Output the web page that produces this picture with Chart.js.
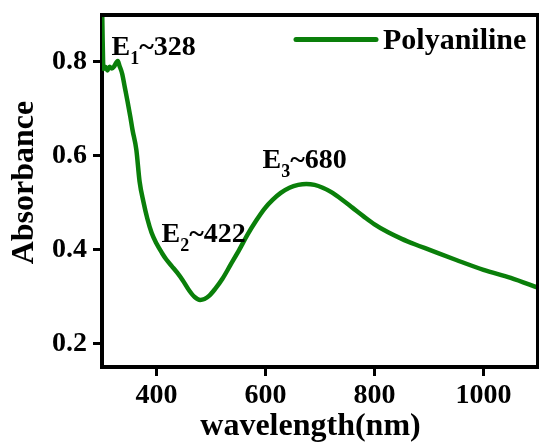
<!DOCTYPE html>
<html><head><meta charset="utf-8">
<script src="https://cdn.jsdelivr.net/npm/chart.js@4/dist/chart.umd.min.js"></script>
<style>
html,body{margin:0;padding:0;background:#fff}
#wrap{position:relative;width:539px;height:447px}
</style>
</head><body><div id="wrap"><canvas id="c" width="539" height="447"></canvas></div>
<script>
// ---- data ----
const wavelengths = [300,301,302,303,306,310,314,318,322,326,329,332,337,342,347,352,356,363,369,376,383,391,400,410,418,428,438,448,460,470,480,488,497,508,521,536,552,567,583,598,613,628,644,660,675,690,705,720,740,760,780,800,825,850,875,900,950,1000,1050,1100];
const absorbance  = [0.93,0.86,0.80,0.785,0.79,0.782,0.79,0.786,0.79,0.798,0.802,0.792,0.775,0.745,0.715,0.683,0.655,0.613,0.545,0.502,0.467,0.436,0.413,0.393,0.379,0.365,0.351,0.335,0.313,0.299,0.293,0.295,0.302,0.317,0.338,0.368,0.400,0.432,0.462,0.487,0.506,0.521,0.532,0.538,0.540,0.538,0.532,0.523,0.507,0.489,0.471,0.454,0.437,0.423,0.411,0.400,0.378,0.357,0.340,0.319];
const xTickValues = [400,600,800,1000];
const yTickValues = [0.2,0.4,0.6,0.8];
const seriesName = 'Polyaniline';
const peakIndex = ['1','2','3'];
const peakWavelength = [328,422,680];
const xTitle = 'wavelength(nm)';
const yTitle = 'Absorbance';

// ---- styling / placement ----
const GREEN = '#0a7f0a';
const FONT = '"Liberation Serif", "Times New Roman", serif';
const peakAnchors = [[317.4,0.815],[409.4,0.417],[594.5,0.5745]];

const framePlugin = {
  id: 'frame',
  afterDraw(chart) {
    const {ctx, chartArea: a} = chart;
    ctx.save();
    ctx.fillStyle = '#000';
    ctx.fillRect(a.left - 2, a.top - 2, a.right - a.left + 2, 4);
    ctx.fillRect(a.right - 2, a.top - 2, 3, a.bottom - a.top + 4);
    ctx.restore();
  }
};

const labelsPlugin = {
  id: 'labels',
  afterDraw(chart) {
    const {ctx, scales: {x, y}} = chart;
    const ds = chart.data.datasets[0];
    ctx.save();
    ctx.strokeStyle = ds.borderColor; ctx.lineWidth = 5; ctx.lineCap = 'round';
    ctx.beginPath(); ctx.moveTo(296, 39.5); ctx.lineTo(376, 39.5); ctx.stroke();
    ctx.fillStyle = '#000'; ctx.textBaseline = 'alphabetic'; ctx.textAlign = 'left';
    ctx.font = 'bold 30px ' + FONT;
    ctx.fillText(ds.label, 383, 49);
    peakIndex.forEach((k, i) => {
      let px = x.getPixelForValue(peakAnchors[i][0]);
      const py = y.getPixelForValue(peakAnchors[i][1]);
      ctx.font = 'bold 28px ' + FONT;
      ctx.fillText('E', px, py); px += ctx.measureText('E').width;
      ctx.font = 'bold 18px ' + FONT;
      ctx.fillText(k, px, py + 9); px += ctx.measureText(k).width;
      ctx.font = 'bold 28px ' + FONT;
      ctx.fillText('~' + peakWavelength[i], px, py);
    });
    ctx.font = 'bold 32px ' + FONT;
    ctx.textAlign = 'center';
    ctx.fillText(xTitle, 310.5, 435);
    ctx.translate(33, 182.5); ctx.rotate(-Math.PI / 2);
    ctx.fillText(yTitle, 0, 0);
    ctx.restore();
  }
};

const tickFont = {family: FONT, weight: 'bold', size: 28};
new Chart(document.getElementById('c'), {
  type: 'line',
  data: {
    datasets: [{
      label: seriesName,
      data: wavelengths.map((w, i) => ({x: w, y: absorbance[i]})),
      borderColor: GREEN, borderWidth: 4.5, pointRadius: 0,
      cubicInterpolationMode: 'monotone', fill: false
    }]
  },
  options: {
    responsive: false, animation: false, devicePixelRatio: 1,
    layout: {padding: {top: 15, right: 1, left: 0, bottom: 0}},
    plugins: {legend: {display: false}, tooltip: {enabled: false}},
    scales: {
      x: {
        type: 'linear', min: 300, max: 1100, position: 'bottom',
        afterBuildTicks: s => { s.ticks = xTickValues.map(v => ({value: v})); },
        afterFit: s => { s.height = 80; s.paddingLeft = 0; s.paddingRight = 0; },
        border: {display: true, color: '#000', width: 4},
        grid: {drawOnChartArea: false, drawTicks: true, tickLength: 9, tickWidth: 3, tickColor: '#000'},
        ticks: {font: tickFont, color: '#000', padding: 3, maxRotation: 0, autoSkip: false, callback: v => String(v)}
      },
      y: {
        type: 'linear', min: 0.15, max: 0.9,
        afterBuildTicks: s => { s.ticks = yTickValues.map(v => ({value: v})); },
        afterFit: s => { s.width = 102; s.paddingTop = 0; s.paddingBottom = 0; },
        border: {display: true, color: '#000', width: 4},
        grid: {drawOnChartArea: false, drawTicks: true, tickLength: 9, tickWidth: 3, tickColor: '#000'},
        ticks: {font: tickFont, color: '#000', padding: 6, autoSkip: false, callback: v => v.toFixed(1)}
      }
    }
  },
  plugins: [labelsPlugin, framePlugin]
});
</script></body></html>
